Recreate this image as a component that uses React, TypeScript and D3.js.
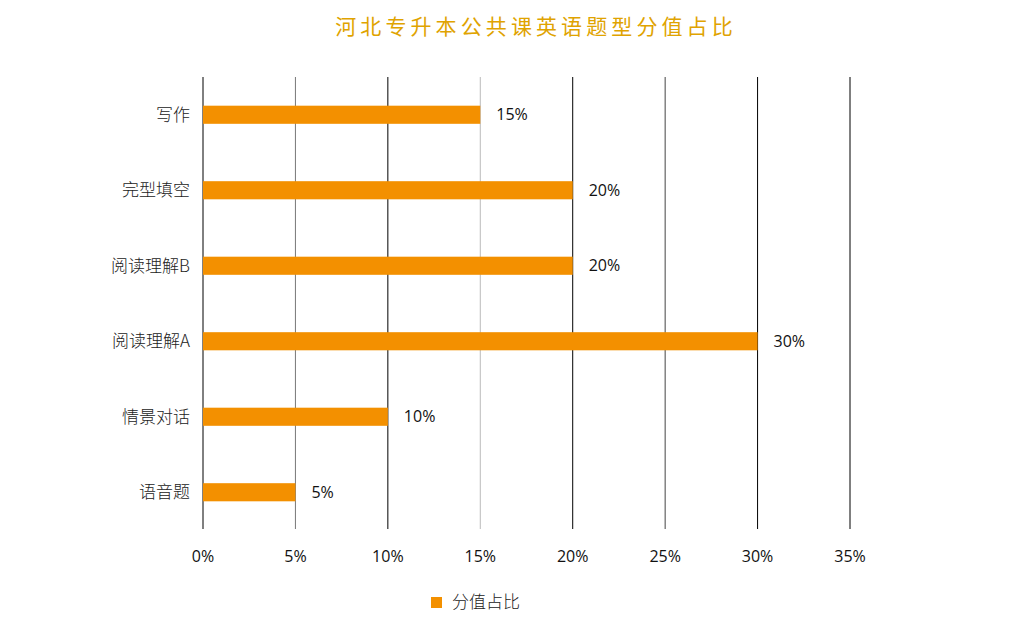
import React from "react";
import * as d3 from "d3";

const categories = ["写作", "完型填空", "阅读理解B", "阅读理解A", "情景对话", "语音题"];
const values = [15, 20, 20, 30, 10, 5];
const ticks = [0, 5, 10, 15, 20, 25, 30, 35];
const gridColors = ["#000", "#777", "#000", "#bbb", "#000", "#444", "#000", "#000"];
const title = "河北专升本公共课英语题型分值占比";
const seriesName = "分值占比";

export default function App() {
  const W = 1034, H = 621;
  const x = d3.scaleLinear().domain([0, 35]).range([203, 850]);
  const y = d3.scaleBand().domain(categories).range([77, 530]).paddingInner(0.76).paddingOuter(0.38);
  const sans = "'Open Sans', 'Liberation Sans', sans-serif";
  const cjk = "'Noto Sans CJK SC', sans-serif";
  return (
    <svg width={W} height={H} style={{ position: "absolute", left: 0, top: 0, background: "#fff" }}>
      <text x={536} y={34} textAnchor="middle" fontFamily={cjk} fontSize={21} fill="#e0a300" letterSpacing={4.1}>{title}</text>
      {ticks.map((t, i) => (
        <g key={t}>
          <line x1={x(t)} x2={x(t)} y1={77} y2={529} stroke={gridColors[i]} strokeWidth={1} />
          <text x={x(t)} y={562} textAnchor="middle" fontFamily={sans} fontSize={16} fill="#111">{t}%</text>
        </g>
      ))}
      {categories.map((c, i) => {
        const yc = (y(c) as number) + y.bandwidth() / 2;
        return (
          <g key={c}>
            <rect x={x(0)} y={y(c)} width={x(values[i]) - x(0)} height={y.bandwidth()} fill="#f39000" />
            <text x={190} y={yc} dy="0.35em" textAnchor="end" fontFamily={cjk} fontWeight={300} fontSize={17} fill="#222">{c}</text>
            <text x={x(values[i]) + 16} y={yc} dy="0.35em" fontFamily={sans} fontSize={16} fill="#111">{values[i]}%</text>
          </g>
        );
      })}
      <rect x={431} y={597} width={11} height={11} fill="#f39000" />
      <text x={452} y={602} dy="0.35em" fontFamily={cjk} fontWeight={300} fontSize={17} fill="#222">{seriesName}</text>
    </svg>
  );
}
